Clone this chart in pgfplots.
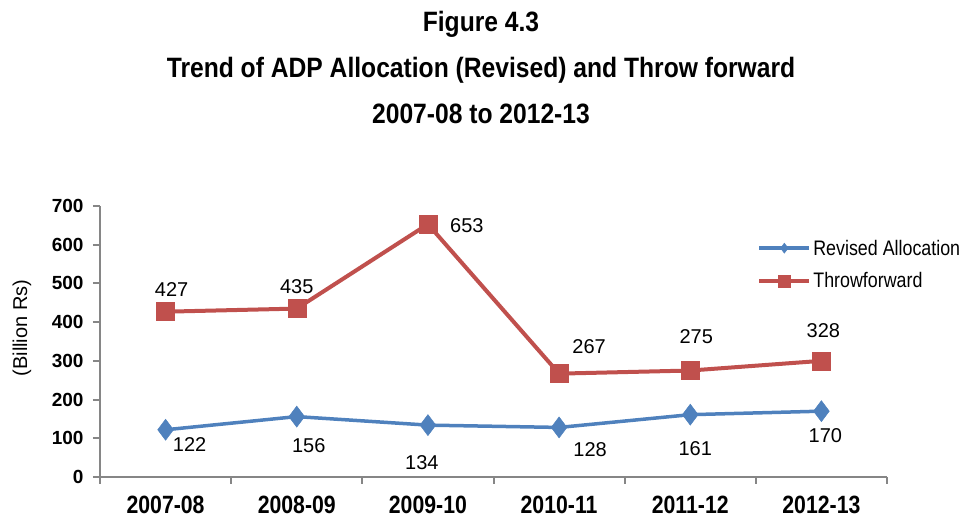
\documentclass[border=0pt]{standalone}
\usepackage{pgfplots}
\pgfplotsset{compat=1.18}
\usepackage{pgfplotstable}
\usepackage{fontspec}
\setmainfont{Liberation Sans}
\newfontfamily\narrow{Liberation Sans}[FakeStretch=0.85]
\newfontfamily\titlefont{Liberation Sans}[FakeStretch=0.88]
\definecolor{allocblue}{HTML}{4F81BD}
\definecolor{throwred}{HTML}{C0504D}
\definecolor{axisgray}{HTML}{868686}

% x y label dx dy  (dx, dy = label offset from the point)
\pgfplotstableread{
x y label dx dy
0 122 122 24 -15
1 156 156 12 -29
2 134 134 -6 -37
3 128 128 31 -22
4 161 161 5 -34
5 170 170 4 -24
}\revised
\pgfplotstableread{
x y label dx dy
0 427 427 6 22
1 435 435 0 22
2 653 653 39 -1
3 267 267 30 27
4 275 275 6 34
5 300 328 2 30
}\throwfwd

\begin{document}
\begin{tikzpicture}
\useasboundingbox (0,0) rectangle (967pt,521pt);
\begin{axis}[
    at={(100pt,44pt)}, anchor=south west,
    scale only axis, width=787pt, height=271pt,
    xmin=-0.5, xmax=5.5, ymin=0, ymax=700,
    axis x line=bottom, axis y line=left,
    axis line style={-, draw=axisgray, line width=2pt},
    xtick={0,...,5},
    xticklabels={2007-08,2008-09,2009-10,2010-11,2011-12,2012-13},
    minor xtick={-0.5,0.5,...,5.5},
    ytick={0,100,...,700},
    tick align=outside,
    major tick length=7pt, minor tick length=7pt,
    tick style={draw=axisgray, line width=2pt},
    major x tick style={draw=none},
    /pgf/number format/assume math mode=true,
    xticklabel style={font=\narrow\bfseries\fontsize{25}{25}\selectfont, yshift=-9pt},
    yticklabel style={font=\bfseries\fontsize{19}{19}\selectfont, xshift=-6pt},
    clip=false,
    legend style={at={(0.835,0.784)}, anchor=west, draw=none, fill=none,
        font=\narrow\fontsize{21}{21}\selectfont, inner sep=0pt,
        row sep=12pt, nodes={inner sep=2pt}},
    legend cell align=left,
    legend image code/.code={\draw[mark repeat=2, mark phase=2, #1]
        plot coordinates {(0pt,0pt) (25pt,0pt) (50pt,0pt)};},
    nodes near coords,
    point meta=explicit symbolic,
    visualization depends on={\thisrow{dx} \as \dx},
    visualization depends on={\thisrow{dy} \as \dy},
    every node near coord/.append style={anchor=center, text=black,
        xshift=\dx pt, yshift=\dy pt, font=\fontsize{20}{20}\selectfont},
]
\addplot[color=allocblue, line width=3.5pt, mark=diamond*, mark size=10.5pt,
    mark options={solid, line width=0.5pt},
    legend image post style={mark size=5pt}]
    table[x=x, y=y, meta=label] {\revised};
\addlegendentry{Revised Allocation}
\addplot[color=throwred, line width=4pt, mark=square*, mark size=9pt,
    mark options={solid, line width=0.5pt},
    legend image post style={mark size=6pt}]
    table[x=x, y=y, meta=label] {\throwfwd};
\addlegendentry{Throwforward}
\end{axis}
\node[rotate=90, font=\fontsize{20}{20}\selectfont] at (22pt,193pt) {(Billion Rs)};
\node[anchor=base, font=\titlefont\bfseries\fontsize{28}{28}\selectfont] at (481pt,489pt) {Figure 4.3};
\node[anchor=base, font=\titlefont\bfseries\fontsize{28}{28}\selectfont] at (481pt,443pt) {Trend of ADP Allocation (Revised) and Throw forward};
\node[anchor=base, font=\titlefont\bfseries\fontsize{28}{28}\selectfont] at (481pt,397pt) {2007-08 to 2012-13};
\end{tikzpicture}
\end{document}
